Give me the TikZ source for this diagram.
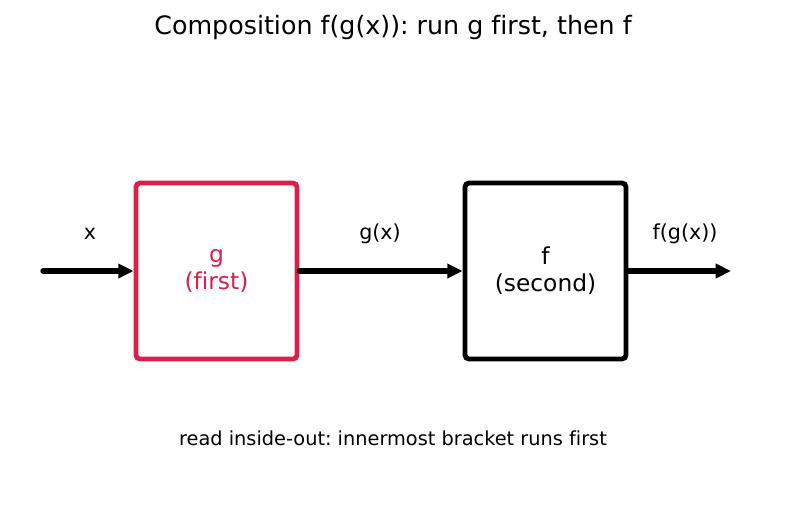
\documentclass[tikz,border=0pt]{standalone}
\usepackage{fontspec}
\setmainfont[Ligatures=NoCommon]{DejaVu Sans}
\usetikzlibrary{arrows.meta}
\definecolor{gred}{RGB}{220,30,72}
\frenchspacing

\begin{document}
\begin{tikzpicture}[x=0.75pt,y=0.75pt,
    funcbox/.style={shape=rectangle, rounded corners=3pt, line width=3.6pt,
        minimum width=120.75pt, minimum height=132pt, align=center,
        font=\fontsize{17.5}{20}\selectfont},
    flow/.style={-{Triangle[length=11.5pt,width=10.5pt]}, line width=4pt, line cap=round},
    lbl/.style={font=\fontsize{15.5}{18}\selectfont}]
    \useasboundingbox (0,0) rectangle (787,512);

    \node[funcbox, draw=gred, text=gred] (G) at (216.5,241) {g\\(first)};
    \node[funcbox, draw=black] (F) at (545.5,241) {f\\(second)};
    \coordinate (In) at (43,241);
    \coordinate (Out) at (731,241);

    \path [flow](In) edge (G);
    \path [flow](G) edge (F);
    \path [flow](F) edge (Out);

    \node[lbl] (lx) at (90,278) {x};
    \node[lbl] (lgx) at (380,278) {g(x)};
    \node[lbl] (lfgx) at (685,278) {f(g(x))};

    \node[font=\fontsize{19}{22}\selectfont] (title) at (393,484) {Composition f(g(x)): run g first, then f};
    \node[font=\fontsize{14.5}{17}\selectfont] (note) at (393,74) {read inside-out: innermost bracket runs first};

\end{tikzpicture}
\end{document}
